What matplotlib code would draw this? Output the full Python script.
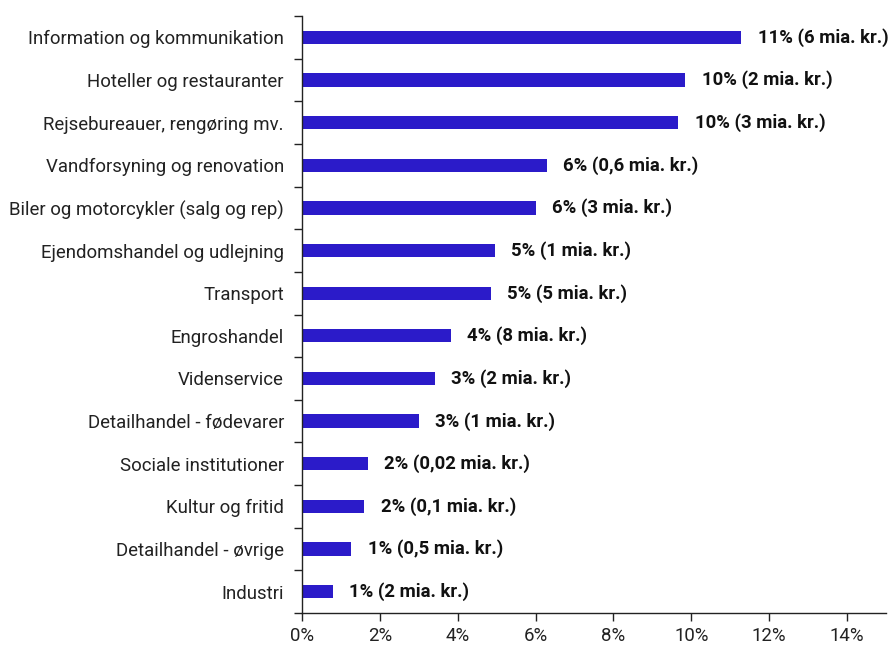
import numpy as np
import matplotlib.pyplot as plt
from matplotlib.ticker import FixedLocator

# data, top to bottom
categories = ['Information og kommunikation', 'Hoteller og restauranter',
              'Rejsebureauer, rengøring mv.', 'Vandforsyning og renovation',
              'Biler og motorcykler (salg og rep)', 'Ejendomshandel og udlejning',
              'Transport', 'Engroshandel', 'Videnservice',
              'Detailhandel - fødevarer', 'Sociale institutioner',
              'Kultur og fritid', 'Detailhandel - øvrige', 'Industri']
shares = [11.28, 9.85, 9.67, 6.28, 6.0, 4.95, 4.85, 3.82, 3.41, 3.0, 1.69, 1.59, 1.26, 0.79]
value_labels = ['11% (6 mia. kr.)', '10% (2 mia. kr.)', '10% (3 mia. kr.)',
                '6% (0,6 mia. kr.)', '6% (3 mia. kr.)', '5% (1 mia. kr.)',
                '5% (5 mia. kr.)', '4% (8 mia. kr.)', '3% (2 mia. kr.)',
                '3% (1 mia. kr.)', '2% (0,02 mia. kr.)', '2% (0,1 mia. kr.)',
                '1% (0,5 mia. kr.)', '1% (2 mia. kr.)']
xticks = [0, 2, 4, 6, 8, 10, 12, 14]

plt.rcParams['font.family'] = ['Roboto', 'DejaVu Sans']

fig = plt.figure(figsize=(8.92, 6.46), dpi=100)
ax = fig.add_axes([302/892, 1 - 613/646, 584/892, 597/646])

y = np.arange(len(categories))[::-1]
ax.barh(y, shares, height=0.31, color='#2B1BC9')

# value labels right of each bar
for yi, v, lab in zip(y, shares, value_labels):
    ax.annotate(lab, (v, yi), xytext=(12, 0), textcoords='offset points',
                va='center', ha='left', fontsize=13.3, fontweight='bold',
                color='#111111', annotation_clip=False)

ax.set_xlim(0, 15)
ax.set_ylim(-0.5, len(categories) - 0.5)
ax.set_yticks(y)
ax.set_yticklabels(categories, fontsize=13.4, color='#222222')
ax.tick_params(axis='y', length=0, pad=13)
# tick marks sit between the categories
ax.yaxis.set_minor_locator(FixedLocator(np.arange(-0.5, len(categories), 1)))
ax.tick_params(axis='y', which='minor', length=6, width=1, color='#222222')

ax.set_xticks(xticks)
ax.set_xticklabels([f'{t}%' for t in xticks], fontsize=13.4, color='#222222')
ax.tick_params(axis='x', length=6, width=1, color='#222222', pad=4)

for s in ['top', 'right']:
    ax.spines[s].set_visible(False)
for s in ['left', 'bottom']:
    ax.spines[s].set_color('#222222')
    ax.spines[s].set_linewidth(1)

plt.savefig('out.png', dpi=100)
plt.close()
